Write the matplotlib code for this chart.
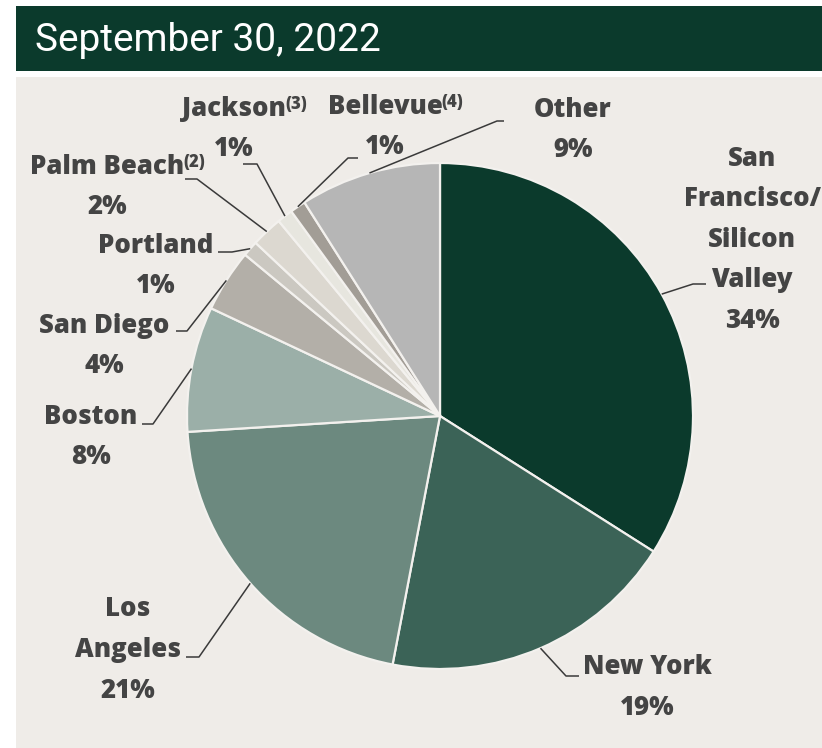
import matplotlib
matplotlib.use('Agg')
import matplotlib.pyplot as plt
from matplotlib.patches import Rectangle
import numpy as np

# ---------------- data ----------------
categories = ['San Francisco/Silicon Valley', 'New York', 'Los Angeles', 'Boston',
              'San Diego', 'Portland', 'Palm Beach', 'Jackson', 'Bellevue', 'Other']
values = [34, 19, 21, 8, 4, 1, 2, 1, 1, 9]
footnotes = ['', '', '', '', '', '', '(2)', '(3)', '(4)', '']
label_lines = [['San', 'Francisco/', 'Silicon', 'Valley'], ['New York'], ['Los', 'Angeles'],
               ['Boston'], ['San Diego'], ['Portland'], ['Palm Beach'], ['Jackson'],
               ['Bellevue'], ['Other']]
colors = ['#0B3A2C', '#3B6357', '#6C897F', '#9BAFA8', '#B3AFA8', '#CBC8C1',
          '#DCD8D0', '#E7E6DF', '#A29D96', '#B6B6B6']
title = 'September 30, 2022'

# ---------------- layout (pixel coordinates, y from top) ----------------
W, H = 822, 748
center_px = (440, 416)
radius = 253
label_pos = [(752, 156), (647, 665), (128, 607), (91, 414), (104, 323),
             (156, 243), (107, 164), (234, 106), (385, 104), (573, 107)]
label_dy = 2.5
elbows = [((693, 284), (706, 284)), ((566, 676), (579, 676)), ((199, 657), (186, 657)),
          ((153, 424), (142, 424)), ((187, 331), (176, 331)), ((232, 252), (218, 252)),
          ((197, 179), (185, 179)), ((257, 164), (243, 164)), ((348, 158), (358, 158)),
          ((497, 121), (504, 121))]
line_gap = 40.5
text_color = '#444444'
label_font = 'Open Sans'
title_font = 'Roboto'
label_size = 18.5

def Y(y):
    return H - y

fig = plt.figure(figsize=(W / 100, H / 100), dpi=100)
fig.patch.set_facecolor('white')
ax = fig.add_axes([0, 0, 1, 1])
ax.set_xlim(0, W)
ax.set_ylim(0, H)
ax.axis('off')

# header banner and panel
ax.add_patch(Rectangle((16, Y(71)), W - 16, 65, facecolor='#0B3A2C', edgecolor='none', zorder=0))
ax.add_patch(Rectangle((16, 0), W - 16, Y(77), facecolor='#EFECE8', edgecolor='none', zorder=0))
ax.text(35, Y(40), title, color='white', fontsize=28, family=title_font, va='center', ha='left')

# pie
cx, cy = center_px[0], Y(center_px[1])
wedges, _ = ax.pie(values, colors=colors, startangle=90, counterclock=False,
                   center=(cx, cy), radius=radius,
                   wedgeprops=dict(edgecolor='#F3F1EE', linewidth=1.6))
ax.set_xlim(0, W)
ax.set_ylim(0, H)
ax.set_aspect('equal')

# leaders
for w, (e1, e2) in zip(wedges, elbows):
    mid = np.deg2rad((w.theta1 + w.theta2) / 2)
    sx, sy = cx + radius * np.cos(mid), cy + radius * np.sin(mid)
    ax.plot([sx, e1[0], e2[0]], [sy, Y(e1[1]), Y(e2[1])], color='#3a3a3a', lw=1.1,
            solid_capstyle='butt', zorder=5)

# labels
main_texts = []
for lines, v, (lx, ly), fn in zip(label_lines, values, label_pos, footnotes):
    ly = ly + label_dy
    for i, ln in enumerate(lines):
        t = ax.text(lx, Y(ly + i * line_gap), ln, ha='center', va='center', color=text_color,
                    fontsize=label_size, fontweight=800, family=label_font, zorder=6)
        if i == 0:
            main_texts.append((t, fn))
    ax.text(lx, Y(ly + len(lines) * line_gap), f'{v}%', ha='center', va='center',
            color=text_color, fontsize=label_size, fontweight=800, family=label_font, zorder=6)

fig.canvas.draw()
r = fig.canvas.get_renderer()
for t, fn in main_texts:
    if fn:
        bb = t.get_window_extent(renderer=r)
        ax.text(bb.x1 - 1, bb.y1 - 0.5, fn, ha='left', va='top', color=text_color,
                fontsize=12, fontweight=800, family=label_font, zorder=6)

fig.savefig('out.png', dpi=100, facecolor='white')
